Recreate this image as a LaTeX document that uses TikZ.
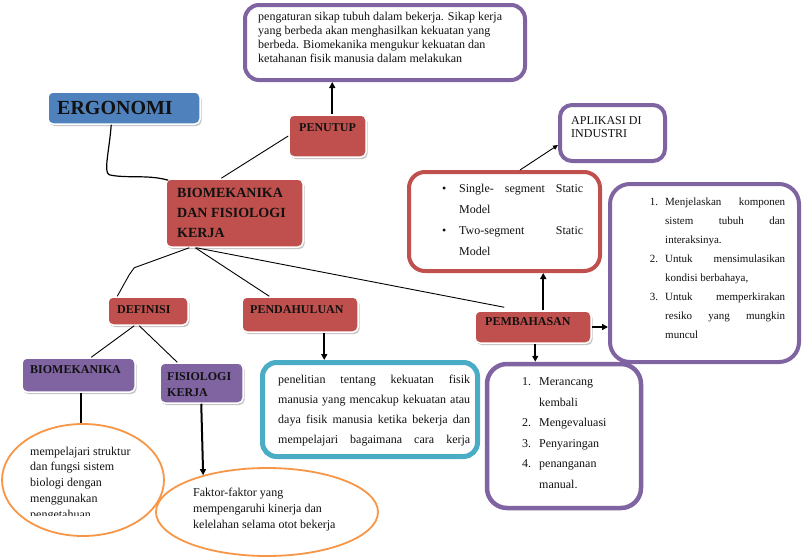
\documentclass[tikz,border=0pt]{standalone}
\usepackage{fontspec}
\setmainfont{Liberation Serif}
\usetikzlibrary{shadows,arrows.meta,calc,shapes.geometric}
\definecolor{cpurple}{HTML}{8064A2}
\definecolor{cred}{HTML}{C0504D}
\definecolor{cblue}{HTML}{4F81BD}
\definecolor{ccyan}{HTML}{4BACC6}
\definecolor{corange}{HTML}{F79646}
\definecolor{ctext}{HTML}{111111}
\newcommand{\jl}[2]{\hbox to #1{\spaceskip=0.25em plus 1fil minus 0.1em\relax #2}}
\begin{document}
\begin{tikzpicture}[x=1pt,y=-1pt,
  fbox/.style={draw=white, line width=1.5pt, rounded corners=5pt, inner sep=0pt,
    general shadow={shadow xshift=1.5pt, shadow yshift=-2pt, fill=gray!45}},
  redbox/.style={fbox, fill=cred},
  purbox/.style={fbox, fill=cpurple},
  bluebox/.style={fbox, fill=cblue},
  obox/.style={draw=#1, line width=4pt, fill=white, rounded corners=14pt, inner sep=0pt},
  ell/.style={draw=corange, line width=1.8pt, ellipse, inner sep=0pt},
  lbl/.style={font=\fontsize{12}{16}\selectfont\bfseries, text=ctext, inner sep=0pt, anchor=west},
  txt/.style={inner sep=0pt, anchor=north west, align=left, text=ctext},
  conn/.style={draw=black, line width=0.9pt},
  bar/.style={draw=black, line width=2pt},
  barrow/.style={bar, -{Triangle[length=6pt,width=6pt]}},
  tarrow/.style={conn, -{Triangle[length=5pt,width=4.5pt]}},
]
\fill[white] (0,0) rectangle (803,557);
\useasboundingbox (0,0) rectangle (803,557);

% outlined boxes
\node[obox=cpurple, minimum width=280pt, minimum height=75pt] (topbox) at (385,42.5) {};
\node[obox=cpurple, minimum width=105pt, minimum height=56pt, rounded corners=12pt] (aplik) at (612.5,133) {};
\node[obox=cred, minimum width=191pt, minimum height=99pt, rounded corners=16pt] (ss) at (504.5,221.5) {};
\node[obox=cpurple, minimum width=189pt, minimum height=178pt, rounded corners=20pt] (rbox) at (704.5,273) {};
\node[obox=ccyan, line width=5pt, minimum width=215pt, minimum height=94pt, rounded corners=14pt] (pendbox) at (370,409.5) {};
\node[obox=cpurple, line width=4.5pt, minimum width=154pt, minimum height=144pt, rounded corners=20pt] (listbox) at (564,436) {};

% ellipses
\node[ell, minimum width=162pt, minimum height=112pt] (e1) at (83,480) {};
\node[ell, minimum width=222pt, minimum height=88pt] (e2) at (267,512) {};

% filled boxes
\node[bluebox, minimum width=152pt, minimum height=32pt] (ergo) at (124,108) {};
\node[redbox, minimum width=77pt, minimum height=42pt] (penutup) at (327.5,136) {};
\node[redbox, minimum width=137pt, minimum height=68pt] (bio) at (234.5,213) {};
\node[redbox, minimum width=80pt, minimum height=28pt] (defin) at (148,311) {};
\node[redbox, minimum width=116pt, minimum height=35pt] (pend) at (300,314.5) {};
\node[redbox, minimum width=116pt, minimum height=32pt] (pemb) at (533,327) {};
\node[purbox, minimum width=113pt, minimum height=34pt] (biomk) at (78.5,375) {};
\node[purbox, minimum width=83pt, minimum height=40pt] (fis) at (201.5,383) {};

% labels
\node[lbl, font=\fontsize{20}{24}\selectfont\bfseries] (tergo) at (57,107.5) {ERGONOMI};
\node[lbl] (tpenutup) at (299,128) {PENUTUP};
\node[txt, font=\fontsize{14}{20}\selectfont\bfseries] (tbio) at (177,188.5) {BIOMEKANIKA\\DAN FISIOLOGI\\KERJA};
\node[lbl] (tdefin) at (117,310) {DEFINISI};
\node[lbl] (tpend) at (250,310) {PENDAHULUAN};
\node[lbl] (tpemb) at (485,322) {PEMBAHASAN};
\node[lbl] (tbiomk) at (30,370) {BIOMEKANIKA};
\node[txt, font=\fontsize{12}{16}\selectfont\bfseries] (tfis) at (167,372.5) {FISIOLOGI\\KERJA};

% texts
\node[txt, font=\fontsize{12}{14}\selectfont] (ttop) at (258,11.5) {pengaturan sikap tubuh dalam bekerja. Sikap kerja\\yang berbeda akan menghasilkan kekuatan yang\\berbeda. Biomekanika mengukur kekuatan dan\\ketahanan fisik manusia dalam melakukan};
\node[txt, font=\fontsize{12}{13}\selectfont] (taplik) at (571,116.5) {APLIKASI DI\\INDUSTRI};
\node[txt, font=\fontsize{12}{21}\selectfont] (tss) at (459,183.5) {\llap{\textbullet\hspace{13pt}}\jl{124pt}{Single- segment Static}\\Model\\\llap{\textbullet\hspace{13pt}}\jl{124pt}{Two-segment Static}\\Model};
\node[txt, font=\fontsize{11}{19}\selectfont] (trbox) at (665,198) {\llap{1.\hspace{7pt}}\jl{120pt}{Menjelaskan komponen}\\\jl{120pt}{sistem tubuh dan}\\interaksinya.\\\llap{2.\hspace{7pt}}\jl{120pt}{Untuk mensimulasikan}\\kondisi berbahaya,\\\llap{3.\hspace{7pt}}\jl{120pt}{Untuk memperkirakan}\\\jl{120pt}{resiko yang mungkin}\\muncul};
\node[txt, font=\fontsize{12}{20}\selectfont] (tpendbox) at (278,374.5) {\jl{192pt}{penelitian tentang kekuatan fisik}\\\jl{192pt}{manusia yang mencakup kekuatan atau}\\\jl{192pt}{daya fisik manusia ketika bekerja dan}\\\jl{192pt}{mempelajari bagaimana cara kerja}};
\node[txt, font=\fontsize{12}{20.5}\selectfont] (tlist) at (539,377.5) {\llap{1.\hspace{8pt}}Merancang\\kembali\\\llap{2.\hspace{8pt}}Mengevaluasi\\\llap{3.\hspace{8pt}}Penyaringan\\\llap{4.\hspace{8pt}}penanganan\\manual.};
\begin{scope}
\clip (0,400) rectangle (170,515.5);
\node[txt, font=\fontsize{12}{15.75}\selectfont] (te1) at (30,446.5) {mempelajari struktur\\dan fungsi sistem\\biologi dengan\\menggunakan\\pengetahuan};
\end{scope}
\node[txt, font=\fontsize{12}{16}\selectfont] (te2) at (193,487.5) {Faktor-faktor yang\\mempengaruhi kinerja dan\\kelelahan selama otot bekerja};

% connectors
\draw[conn, line width=1.2pt] ([xshift=64pt]ergo.south west) .. controls ++(-2,26) and ++(-6,-2) .. ++(-2,50) .. controls ++(16,4) and ++(-20,-6) .. ([xshift=3pt,yshift=-2pt]bio.north west);
\draw[conn] ([xshift=56pt]bio.north west) -- (penutup.west);
\draw[barrow] ([xshift=44pt]penutup.north west) -- ([xshift=44pt]penutup.north west |- topbox.south);
\draw[conn] ([xshift=24pt]bio.south west) -- ++(-55,20) -- ++(-5,7) -- ([xshift=10pt]defin.north west);
\draw[conn] ([xshift=30pt]bio.south west) -- ([xshift=28pt]pend.north west);
\draw[conn] ([xshift=31pt]bio.south west) -- ([xshift=30pt,yshift=3pt]pemb.north west);
\draw[conn] ([xshift=27pt]defin.south west) -- ([xshift=70pt]biomk.north west);
\draw[conn] ([xshift=32pt]defin.south west) -- ([xshift=18pt]fis.north west);
\draw[barrow] ([xshift=83pt]pend.south west) -- ([xshift=83pt]pend.south west |- pendbox.north);
\draw[bar] ([xshift=60pt]biomk.south west) -- ([xshift=60pt]biomk.south west |- e1.north);
\draw[barrow] ([xshift=42pt]fis.south west) -- (e2.150.5);
\draw[barrow] ([xshift=69pt]pemb.north west) -- ([xshift=69pt]pemb.north west |- ss.south);
\draw[barrow] (pemb.east) -- (pemb.east -| rbox.west);
\draw[barrow] ([xshift=61pt]pemb.south west) -- ([xshift=61pt]pemb.south west |- listbox.north);
\draw[tarrow] ([xshift=113pt]ss.north west) -- ([yshift=-12pt]aplik.west);
\end{tikzpicture}
\end{document}
